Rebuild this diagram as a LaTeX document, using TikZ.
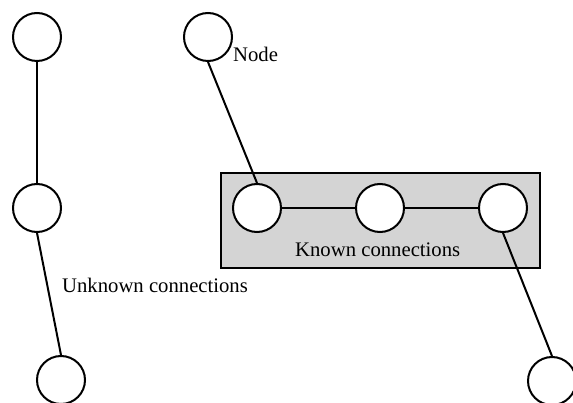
\documentclass[tikz,border=0pt]{standalone}
\usepackage{fontspec}
\setmainfont{Liberation Serif}
\begin{document}
\begin{tikzpicture}[x=1pt,y=-1pt,
  nd/.style={circle,draw=black,fill=white,line width=2pt,minimum size=48pt,inner sep=0pt},
  conn/.style={line width=2pt,black},
  lbl/.style={font=\fontsize{20.7}{24}\selectfont,inner sep=0pt,anchor=base west},
  groupbox/.style={draw=black,fill=black!17,line width=2pt,minimum width=319pt,minimum height=95pt,inner sep=0pt}]
\useasboundingbox (0,0) rectangle (573,403);
\clip (0,0) rectangle (573,403);
\node[groupbox] (box) at (380.5,220.5) {};
\node[nd] (a) at (37,37) {};
\node[nd] (b) at (37,208) {};
\node[nd] (c) at (61,380) {};
\node[nd] (d) at (208,37) {};
\node[nd] (e) at (257,208) {};
\node[nd] (f) at (380,208) {};
\node[nd] (g) at (503,208) {};
\node[nd] (h) at (552,381) {};
\draw[conn] (a.south) -- (b.north);
\draw[conn] (b.south) -- (c.north);
\draw[conn] (d.south) -- (e.north);
\draw[conn] (e.east) -- (f.west);
\draw[conn] (f.east) -- (g.west);
\draw[conn] (g.south) -- (h.north);
\node[lbl] (nodelbl) at (233,62) {Node};
\node[lbl] (unk) at (62,293) {Unknown connections};
\node[lbl] (known) at (295,257) {Known connections};
\end{tikzpicture}
\end{document}
